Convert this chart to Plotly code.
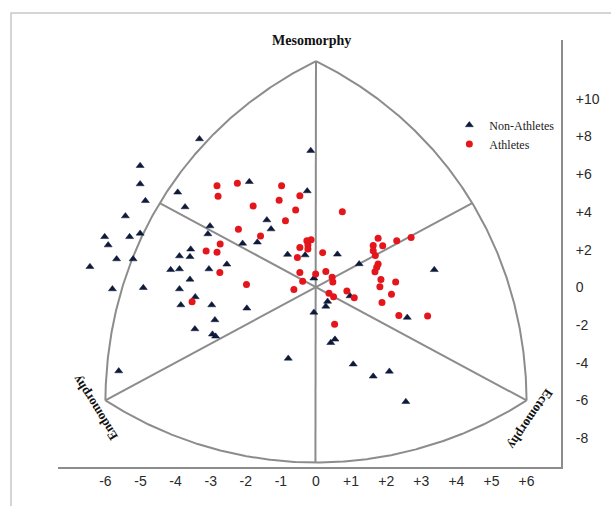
import numpy as np
import plotly.graph_objects as go

# ---------------- data (somatochart X, Y coordinates) ----------------
athletes_x = [-2.82, -2.24, -2.79, -0.98, -0.46, -1.05, -1.79, -0.58, 0.75, -0.87,
              -2.21, -1.58, -2.73, -3.13, -2.82, -0.26, -0.14, -0.23, -0.23, -0.46,
              -0.53, 0.19, -2.74, -0.46, -0.01, 0.28, 0.46, 0.48, -0.38, -0.63,
              -1.98, 0.37, 0.50, 0.88, 1.09, 0.53, -3.53, 1.77, 2.30, 2.71,
              1.63, 1.90, 1.63, 1.69, 1.77, 1.73, 1.68, 1.85, 2.27, 1.82,
              2.15, 1.88, 2.36, 3.18]
athletes_y = [5.39, 5.52, 4.83, 5.39, 4.86, 4.62, 4.31, 4.10, 4.01, 3.53,
              3.08, 2.72, 2.30, 1.93, 1.86, 2.47, 2.53, 2.24, 2.03, 2.11,
              1.58, 1.84, 0.79, 0.79, 0.71, 0.84, 0.53, 0.28, 0.32, -0.11,
              0.15, -0.32, -0.50, -0.20, -0.55, -1.96, -0.76, 2.60, 2.47, 2.64,
              2.22, 2.21, 1.94, 1.69, 1.24, 1.06, 0.83, 0.42, 0.28, 0.03,
              -0.37, -0.80, -1.49, -1.52]

non_athletes_x = [-3.32, -5.01, -5.01, -4.86, -3.94, -3.73, -5.43, -6.02, -5.92, -5.31,
                  -5.01, -3.02, -3.08, -3.57, -3.89, -3.59, -5.68, -5.21, -6.44, -4.14,
                  -3.89, -3.05, -2.54, -3.59, -5.80, -4.92, -3.89, -3.44, -3.85, -2.97,
                  -2.88, -3.45, -2.95, -2.86, -5.62, -0.15, -1.90, -0.25, -1.40, -1.28,
                  -2.09, -1.67, -0.81, -0.31, 0.61, 1.23, -0.06, 0.97, 0.33, 0.28,
                  -0.06, -1.97, 0.54, 0.42, -0.79, 1.06, 1.63, 3.37, 2.60, 2.09, 2.56]
non_athletes_y = [7.87, 6.45, 5.48, 4.59, 5.04, 4.26, 3.78, 2.68, 2.24, 2.68,
                  2.86, 3.25, 2.83, 2.02, 1.66, 1.62, 1.50, 1.50, 1.09, 0.93,
                  0.97, 0.97, 1.22, 0.42, -0.09, -0.02, -0.09, -0.51, -0.94, -0.94,
                  -1.73, -2.21, -2.49, -2.60, -4.44, 7.25, 5.60, 5.11, 3.57, 3.09,
                  2.33, 2.39, 1.74, 1.71, 1.75, 1.24, 0.48, -0.46, -0.75, -1.01,
                  -1.33, -1.11, -2.76, -2.94, -3.77, -4.08, -4.72, 0.93, -1.60, -4.46, -6.07]

x_ticks = [-6, -5, -4, -3, -2, -1, 0, 1, 2, 3, 4, 5, 6]
x_tick_labels = ["-6", "-5", "-4", "-3", "-2", "-1", "0", "+1", "+2", "+3", "+4", "+5", "+6"]
y_ticks = [-8, -6, -4, -2, 0, 2, 4, 6, 8, 10]
y_tick_labels = ["-8", "-6", "-4", "-2", "0", "+2", "+4", "+6", "+8", "+10"]

meso_vertex = (0.0, 12.0)
endo_vertex = (-6.0, -6.0)
ecto_vertex = (6.0, -6.0)

# ---------------- somatochart frame geometry ----------------
SX, SY = 35.1, 18.85  # visual scale (px per unit) used to shape the arcs


def to_vis(p):
    return np.array([p[0] * SX, p[1] * SY])


def from_vis(v):
    return v[..., 0] / SX, v[..., 1] / SY


def arc(a, b, c, bulge, n=400):
    A, B, C = to_vis(a), to_vis(b), to_vis(c)
    da, db = A - C, B - C
    ang_a, ang_b = np.arctan2(da[1], da[0]), np.arctan2(db[1], db[0])
    r_a, r_b = np.hypot(*da), np.hypot(*db)
    t = np.linspace(0, 1, n)
    ang = ang_a + (ang_b - ang_a) * t
    r = r_a + (r_b - r_a) * t + bulge * np.sin(np.pi * t)
    pts = np.stack([C[0] + r * np.cos(ang), C[1] + r * np.sin(ang)], axis=1)
    return from_vis(pts)


left_x, left_y = arc(meso_vertex, endo_vertex, ecto_vertex, 6)
right_x, right_y = arc(meso_vertex, ecto_vertex, endo_vertex, 6)
bot_x, bot_y = arc(endo_vertex, ecto_vertex, meso_vertex, 2)


def hit(ax, ay, direction):
    vx, vy = ax * SX, ay * SY
    target = np.arctan2(direction[1] * SY, direction[0] * SX)
    d = np.abs(np.angle(np.exp(1j * (np.arctan2(vy, vx) - target))))
    i = int(np.argmin(d))
    return ax[i], ay[i]


ul = hit(left_x, left_y, (-ecto_vertex[0], -ecto_vertex[1]))
ur = hit(right_x, right_y, (-endo_vertex[0], -endo_vertex[1]))
bm = hit(bot_x, bot_y, (-meso_vertex[0], -meso_vertex[1]))

fx, fy = [], []
for xs, ys in [(left_x, left_y), (right_x, right_y), (bot_x, bot_y)]:
    fx += list(xs) + [None]
    fy += list(ys) + [None]
for p, q in [(meso_vertex, bm), (endo_vertex, ur), (ecto_vertex, ul)]:
    fx += [p[0], q[0], None]
    fy += [p[1], q[1], None]

fig = go.Figure()
fig.add_trace(go.Scatter(x=fx, y=fy, mode="lines",
                         line=dict(color="#8c8c8c", width=2),
                         hoverinfo="skip", showlegend=False))
fig.add_trace(go.Scatter(x=non_athletes_x, y=non_athletes_y, mode="markers",
                         name="Non-Athletes",
                         marker=dict(symbol="triangle-up", size=7, color="#0e1a3a",
                                     line=dict(width=0.5, color="#0e1a3a"))))
fig.add_trace(go.Scatter(x=athletes_x, y=athletes_y, mode="markers",
                         name="Athletes",
                         marker=dict(symbol="circle", size=7, color="#e4161b",
                                     line=dict(width=0))))

serif = "Liberation Serif, Times New Roman, serif"
sans = "Liberation Sans, Arial, sans-serif"

fig.add_annotation(x=-0.14, y=13.07, xref="x", yref="y", text="<b>Mesomorphy</b>",
                   showarrow=False, font=dict(family=serif, size=14, color="#111"))
fig.add_annotation(x=-6.28, y=-6.40, xref="x", yref="y", text="<b>Endomorphy</b>",
                   textangle=-122, showarrow=False,
                   font=dict(family=serif, size=13, color="#111"))
fig.add_annotation(x=6.11, y=-7.04, xref="x", yref="y", text="<b>Ectomorphy</b>",
                   textangle=124, showarrow=False,
                   font=dict(family=serif, size=13, color="#111"))

fig.add_shape(type="rect", xref="paper", yref="paper",
              x0=-0.0934, y0=-0.3, x1=1.3, y1=1.063,
              line=dict(color="#c8c8c8", width=1.5), layer="below")

fig.update_layout(
    width=611, height=506,
    margin=dict(l=58, r=50, t=40, b=39),
    paper_bgcolor="white", plot_bgcolor="white",
    showlegend=True,
    legend=dict(x=0.778, y=0.835, xanchor="left", yanchor="top",
                bgcolor="rgba(0,0,0,0)",
                font=dict(family=serif, size=12, color="#222"),
                itemwidth=30, tracegroupgap=0),
    xaxis=dict(range=[-7.35, 6.98], showgrid=False, zeroline=False,
               showline=True, linecolor="#8c8c8c", linewidth=2,
               tickvals=x_ticks, ticktext=x_tick_labels, ticks="",
               tickfont=dict(family=sans, size=14, color="#2a2a2a")),
    yaxis=dict(range=[-9.53, 13.12], side="right", showgrid=False, zeroline=False,
               showline=True, linecolor="#8c8c8c", linewidth=2,
               tickvals=y_ticks, ticktext=y_tick_labels, ticks="",
               ticklabelstandoff=10,
               tickfont=dict(family=sans, size=14, color="#2a2a2a")),
)

fig.write_html("out.html",
               config={"displayModeBar": False},
               post_script="document.body.style.margin='0px';"
                           "document.body.style.overflow='hidden';")
